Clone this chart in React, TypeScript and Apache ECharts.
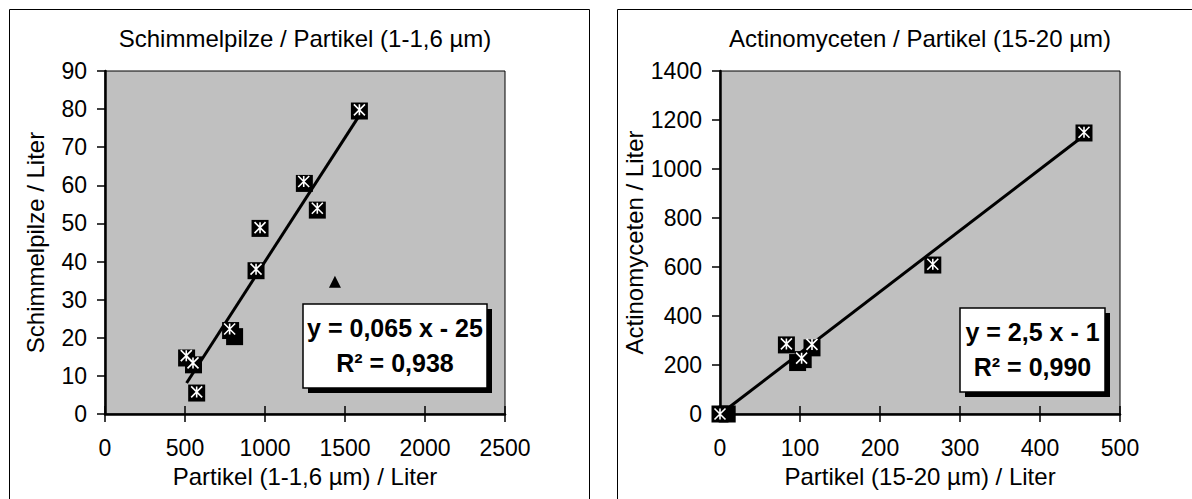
import { useEffect, useRef } from "react";
import * as echarts from "echarts";

// ---- texts ----
const leftTitle = "Schimmelpilze / Partikel (1-1,6 µm)";
const rightTitle = "Actinomyceten / Partikel (15-20 µm)";
const leftXName = "Partikel (1-1,6 µm) / Liter";
const leftYName = "Schimmelpilze / Liter";
const rightXName = "Partikel (15-20 µm) / Liter";
const rightYName = "Actinomyceten / Liter";

// ---- axis scales ----
const leftXScale = [0, 2500, 500];
const leftYScale = [0, 90, 10];
const rightXScale = [0, 500, 100];
const rightYScale = [0, 1400, 200];

// ---- left chart data (Schimmelpilze) ----
const moldSquares = [
  [510, 14.7], [553, 12.9], [573, 5.5], [785, 21.9], [810, 20.3],
  [944, 37.6], [969, 48.7], [1246, 60.5], [1327, 53.5], [1590, 79.5],
];
const moldStars = [
  [508, 15.3], [550, 13.4], [573, 5.8], [779, 22.3], [944, 38.0],
  [969, 48.9], [1242, 61.0], [1327, 54.0], [1590, 79.8],
];
const moldTriangle = [[1437, 34.7]];
const moldFit = [0.065, -25];
const moldEquation = "y = 0,065 x - 25";
const moldR2 = "R² = 0,938";

// ---- right chart data (Actinomyceten) ----
const actinoSquares = [
  [0, 0], [9, 0], [83, 282], [97, 210], [104, 222], [115, 270], [266, 608], [455, 1147],
];
const actinoStars = [
  [0, 0], [83, 286], [102, 228], [115, 284], [266, 611], [455, 1150],
];
const actinoFit = [2.5, -1];
const actinoEquation = "y = 2,5 x - 1";
const actinoR2 = "R² = 0,990";

const FONT = "'Liberation Sans', Arial, Helvetica, sans-serif";
const STAR = "path://M0 0L10 10M10 0L0 10M5 0L5 10";
const plain = (v: number) => String(v);

function fitLine(points: number[][], fit: number[]) {
  const xs = points.map((p) => p[0]);
  const x0 = Math.min(...xs);
  const x1 = Math.max(...xs);
  return [
    [x0, fit[0] * x0 + fit[1]],
    [x1, fit[0] * x1 + fit[1]],
  ];
}

function xAxes(grid: number, scale: number[], name: string) {
  const base = {
    type: "value",
    gridIndex: grid,
    position: "bottom",
    min: scale[0],
    max: scale[1],
    interval: scale[2],
    splitLine: { show: false },
  };
  return [
    {
      ...base,
      name,
      nameLocation: "middle",
      nameGap: 50,
      nameTextStyle: { fontFamily: FONT, fontSize: 24, color: "#000" },
      axisLine: { show: true, onZero: false, lineStyle: { color: "#000", width: 2.5 } },
      axisTick: { show: true, inside: false, length: 8, lineStyle: { color: "#000", width: 1.5 } },
      axisLabel: { show: true, margin: 22, fontFamily: FONT, fontSize: 23, color: "#000", formatter: plain },
    },
    {
      ...base,
      axisLine: { show: false },
      axisTick: { show: true, inside: true, length: 8, lineStyle: { color: "#000", width: 1.5 } },
      axisLabel: { show: false },
    },
  ];
}

function yAxis(grid: number, scale: number[], name: string, gap: number) {
  return {
    type: "value",
    gridIndex: grid,
    min: scale[0],
    max: scale[1],
    interval: scale[2],
    name,
    nameLocation: "middle",
    nameGap: gap,
    nameTextStyle: { fontFamily: FONT, fontSize: 24, color: "#000" },
    splitLine: { show: false },
    axisLine: { show: true, onZero: false, lineStyle: { color: "#000", width: 2.5 } },
    axisTick: { show: true, inside: false, length: 8, lineStyle: { color: "#000", width: 1.5 } },
    axisLabel: { show: true, margin: 18, fontFamily: FONT, fontSize: 23, color: "#000", formatter: plain },
  };
}

function seriesFor(xi: number, yi: number, squares: number[][], stars: number[][], fit: number[]) {
  return [
    {
      type: "line",
      xAxisIndex: xi,
      yAxisIndex: yi,
      data: fitLine(squares, fit),
      symbol: "none",
      lineStyle: { color: "#000", width: 3 },
      z: 2,
    },
    {
      type: "scatter",
      xAxisIndex: xi,
      yAxisIndex: yi,
      data: squares,
      symbol: "rect",
      symbolSize: 17,
      itemStyle: { color: "#000", opacity: 1 },
      z: 3,
    },
    {
      type: "scatter",
      xAxisIndex: xi,
      yAxisIndex: yi,
      data: stars,
      symbol: STAR,
      symbolSize: 11,
      itemStyle: { color: "#fff", borderColor: "#fff", borderWidth: 1.6, opacity: 1 },
      z: 4,
    },
  ];
}

function eqBox(x: number, y: number, w: number, h: number, l1: string, l2: string) {
  const cx = x + w / 2;
  const txt = (text: string, ty: number) => ({
    type: "text",
    z: 102,
    x: cx,
    y: ty,
    style: {
      text,
      fontFamily: FONT,
      fontSize: 25,
      fontWeight: "bold",
      fill: "#000",
      align: "center",
      verticalAlign: "middle",
    },
  });
  return [
    { type: "rect", z: 100, shape: { x: x + 5, y: y + 5, width: w, height: h }, style: { fill: "#000" } },
    {
      type: "rect",
      z: 101,
      shape: { x, y, width: w, height: h },
      style: { fill: "#fff", stroke: "#000", lineWidth: 1.5 },
    },
    txt(l1, y + h * 0.28),
    txt(l2, y + h * 0.7),
  ];
}

function titleText(x: number, text: string) {
  return {
    type: "text",
    x,
    y: 38,
    style: {
      text,
      fontFamily: FONT,
      fontSize: 24,
      fill: "#000",
      align: "center",
      verticalAlign: "middle",
    },
  };
}

export default function App() {
  const ref = useRef<HTMLDivElement>(null);
  useEffect(() => {
    if (!ref.current) return;
    const chart = echarts.init(ref.current, null, { renderer: "svg" });
    const gridBase = {
      width: 400,
      height: 343,
      top: 71,
      show: true,
      backgroundColor: "#c0c0c0",
      borderColor: "#000",
      borderWidth: 1,
      containLabel: false,
    };
    chart.setOption({
      animation: false,
      backgroundColor: "#fff",
      grid: [
        { ...gridBase, left: 105 },
        { ...gridBase, left: 720 },
      ],
      xAxis: [...xAxes(0, leftXScale, leftXName), ...xAxes(1, rightXScale, rightXName)],
      yAxis: [yAxis(0, leftYScale, leftYName, 58), yAxis(1, rightYScale, rightYName, 65)],
      series: [
        ...seriesFor(0, 0, moldSquares, moldStars, moldFit),
        {
          type: "scatter",
          xAxisIndex: 0,
          yAxisIndex: 0,
          data: moldTriangle,
          symbol: "triangle",
          symbolSize: 12,
          itemStyle: { color: "#000", opacity: 1 },
          z: 4,
        },
        ...seriesFor(2, 1, actinoSquares, actinoStars, actinoFit),
      ],
      graphic: [
        {
          type: "rect",
          shape: { x: 9.5, y: 9.5, width: 580, height: 520 },
          style: { fill: "none", stroke: "#000", lineWidth: 1 },
        },
        {
          type: "rect",
          shape: { x: 617.5, y: 9.5, width: 620, height: 520 },
          style: { fill: "none", stroke: "#000", lineWidth: 1 },
        },
        titleText(305, leftTitle),
        titleText(920, rightTitle),
        ...eqBox(303, 304, 184, 84, moldEquation, moldR2),
        ...eqBox(960, 308, 145, 84, actinoEquation, actinoR2),
      ],
    });
    return () => chart.dispose();
  }, []);
  return (
    <div
      ref={ref}
      style={{ position: "fixed", left: 0, top: 0, width: 1192, height: 499, background: "#fff" }}
    />
  );
}
